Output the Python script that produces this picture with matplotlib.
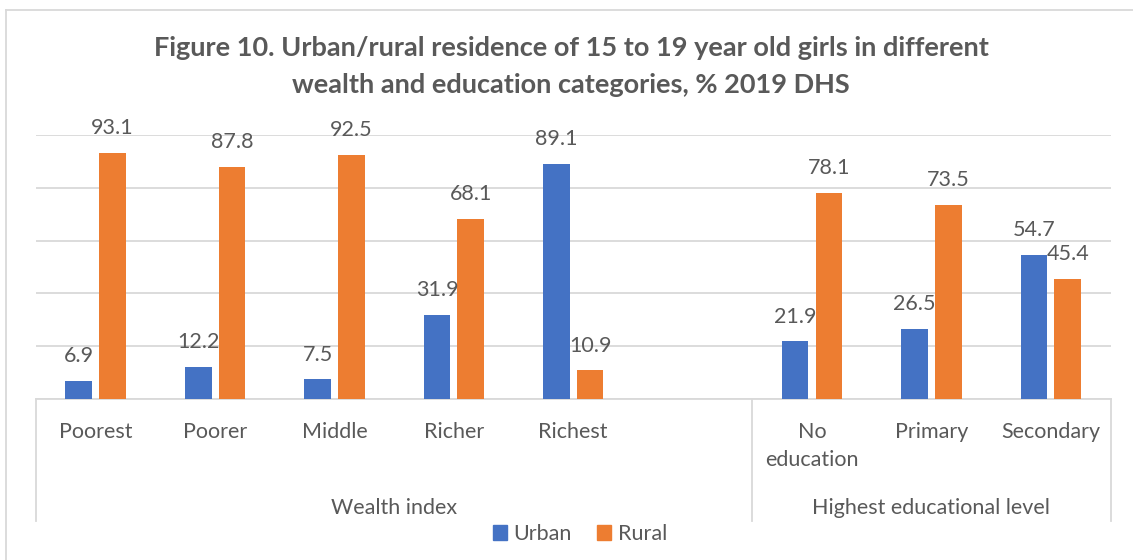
import numpy as np
import matplotlib
matplotlib.use("Agg")
import matplotlib.pyplot as plt
from matplotlib.patches import Patch
from matplotlib.lines import Line2D
import matplotlib.transforms as mtransforms

# ---- data ----
wealth_cats = ["Poorest", "Poorer", "Middle", "Richer", "Richest"]
wealth_urban = [6.9, 12.2, 7.5, 31.9, 89.1]
wealth_rural = [93.1, 87.8, 92.5, 68.1, 10.9]
edu_cats = ["No\neducation", "Primary", "Secondary"]
edu_urban = [21.9, 26.5, 54.7]
edu_rural = [78.1, 73.5, 45.4]
group_labels = ["Wealth index", "Highest educational level"]
series_names = ["Urban", "Rural"]
title_lines = ["Figure 10. Urban/rural residence of 15 to 19 year old girls in different",
               "wealth and education categories, % 2019 DHS"]

# ---- style ----
BLUE = "#4472C4"
ORANGE = "#ED7D31"
TXT = "#595959"
GRID = "#d9d9d9"
FS = 15.5
plt.rcParams['font.family'] = ['Lato', 'DejaVu Sans']

W, H = 1133, 560
fig = plt.figure(figsize=(W / 100, H / 100), dpi=100)
x0, x1 = 36, 1110.5
ytop, ybot = 134.7, 399.3
ax = fig.add_axes([x0 / W, (H - ybot) / H, (x1 - x0) / W, (ybot - ytop) / H])

# positions: wealth group, one empty slot, education group
n_w = len(wealth_cats)
n_e = len(edu_cats)
pos_w = np.arange(n_w)
pos_e = np.arange(n_e) + n_w + 1
positions = np.concatenate([pos_w, pos_e])
cats = wealth_cats + edu_cats
urban = wealth_urban + edu_urban
rural = wealth_rural + edu_rural
nslots = n_w + 1 + n_e

bw = 0.223
off = 0.1415
ax.bar(positions - off, urban, bw, color=BLUE, zorder=3)
ax.bar(positions + off, rural, bw, color=ORANGE, zorder=3)

for p, u, r in zip(positions, urban, rural):
    for xx, v in ((p - off, u), (p + off, r)):
        ax.annotate(f"{v:.1f}", (xx, v), xytext=(0, 13.5), textcoords="offset points",
                    ha="center", va="baseline", fontsize=FS, color=TXT)

ax.set_xlim(-0.5, nslots - 0.5)
ax.set_ylim(0, 100)
ax.set_yticks(np.arange(0, 101, 20))
ax.yaxis.grid(True, color=GRID, linewidth=1.3, zorder=0)
ax.set_yticklabels([])
ax.tick_params(axis="y", length=0)
ax.set_xticks([])
for s in ("top", "right", "left"):
    ax.spines[s].set_visible(False)
ax.spines["bottom"].set_color(GRID)
ax.spines["bottom"].set_linewidth(1.3)
ax.set_axisbelow(True)

trans = mtransforms.blended_transform_factory(ax.transData, ax.transAxes)
ah = ybot - ytop
# category labels
for p, c in zip(positions, cats):
    ax.text(p, -(422 - ybot) / ah, c, transform=trans, ha="center", va="top",
            fontsize=FS, color=TXT, linespacing=1.5, multialignment="center")
# group labels
gy = -(514 - ybot) / ah
ax.text((-0.5 + n_w + 0.5) / 2, gy, group_labels[0], transform=trans,
        ha="center", va="baseline", fontsize=FS, color=TXT)
ax.text((n_w + 0.5 + nslots - 0.5) / 2, gy, group_labels[1], transform=trans,
        ha="center", va="baseline", fontsize=FS, color=TXT)
# separator lines
for xs in (-0.5, n_w + 0.5, nslots - 0.5):
    ax.add_line(Line2D([xs, xs], [0, -(521 - ybot) / ah], transform=trans, color=GRID,
                       linewidth=1.3, clip_on=False))

# title
for yy, line in zip((48, 85), title_lines):
    fig.text(571 / W, 1 - yy / H, line, ha="center", va="center",
             fontsize=19.5, fontweight="bold", color=TXT)

# legend
handles = [Patch(color=BLUE, label=series_names[0]), Patch(color=ORANGE, label=series_names[1])]
fig.legend(handles=handles, loc="center", bbox_to_anchor=(580 / W, 1 - 534 / H), ncol=2,
           frameon=False, fontsize=FS, labelcolor=TXT, handlelength=0.65, handleheight=0.65,
           handletextpad=0.3, columnspacing=1.2)

# outer chart frame (top and left edges visible)
fig.add_artist(Line2D([6 / W, 6 / W], [0, 1 - 10 / H], transform=fig.transFigure,
                      color=GRID, linewidth=1.3))
fig.add_artist(Line2D([6 / W, 1], [1 - 10 / H, 1 - 10 / H], transform=fig.transFigure,
                      color=GRID, linewidth=1.3))

fig.savefig("out.png", dpi=100)
